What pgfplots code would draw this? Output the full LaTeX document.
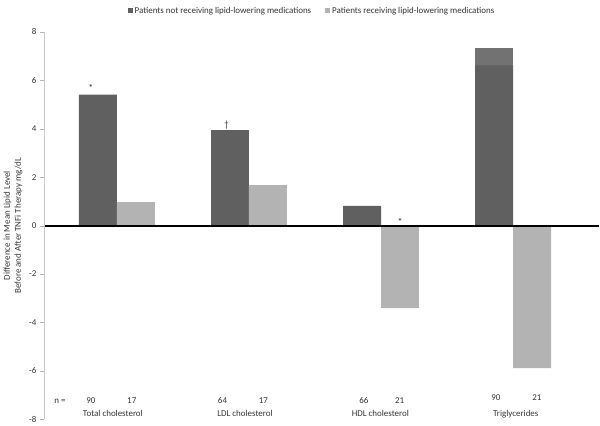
\documentclass[border=0pt]{standalone}
\usepackage{fontspec}
\setmainfont{Carlito}
\usepackage{pgfplots}
\pgfplotsset{compat=1.18}
\definecolor{darkbar}{HTML}{606060}
\definecolor{topbar}{HTML}{727272}
\definecolor{lightbar}{HTML}{B3B3B3}
\definecolor{txt}{HTML}{333333}

\begin{document}
\begin{tikzpicture}[font=\fontsize{9}{10.5}\selectfont, text=txt]
\begin{axis}[
  scale only axis, width=556bp, height=388bp,
  xmin=-0.552, xmax=3.65, ymin=-8, ymax=8,
  ytick={-8,-6,...,8}, xtick=\empty,
  axis x line=middle, axis y line=left,
  x axis line style={black, line width=2bp, -},
  y axis line style={black!22, -},
  hide obscured y ticks=false,
  tick align=outside, major tick length=4bp,
  ytick style={black!30},
  yticklabel style={font=\fontsize{9}{10}\selectfont, text=txt},
  /pgf/number format/assume math mode=true,
  axis on top, clip=false,
  legend columns=2,
  legend style={at={(0.483,1)}, anchor=south, yshift=15bp, draw=none,
    font=\fontsize{9}{10}\selectfont, text=txt, inner sep=0pt,
    /tikz/every even column/.append style={column sep=12bp}},
]
% upper segment of the triglyceride bar
\addplot[ybar, bar width=38bp, bar shift=-19bp, fill=topbar, draw=none, forget plot]
  coordinates {(3,7.32)};
\addplot[ybar, bar width=38bp, bar shift=-19bp, fill=darkbar, draw=none,
  legend image code/.code={\fill[darkbar] (0bp,-2.5bp) rectangle (5bp,2.5bp);}]
  coordinates {(0,5.41) (1,3.94) (2,0.82) (3,6.62)};
\addplot[ybar, bar width=38bp, bar shift=19bp, fill=lightbar, draw=none,
  legend image code/.code={\fill[lightbar] (0bp,-2.5bp) rectangle (5bp,2.5bp);}]
  coordinates {(0,0.97) (1,1.67) (2,-3.41) (3,-5.89)};
\legend{Patients not receiving lipid-lowering medications,
        Patients receiving lipid-lowering medications}

% significance marks
\node[anchor=base, font=\fontsize{10}{11}\selectfont] at (axis cs:-0.197,5.52) {*};
\node[anchor=base, font=\fontsize{9.5}{10}\selectfont] at (axis cs:0.83,4.04) {†};
\node[anchor=base, font=\fontsize{10}{11}\selectfont] at (axis cs:2.144,0.02) {*};

% sample sizes and group names
\node at (axis cs:-0.431,-7.24) {n =};
\node at (axis cs:-0.197,-7.24) {90};
\node at (axis cs:0.113,-7.24) {17};
\node at (axis cs:0.80,-7.24) {64};
\node at (axis cs:1.11,-7.24) {17};
\node at (axis cs:1.87,-7.24) {66};
\node at (axis cs:2.14,-7.24) {21};
\node at (axis cs:2.87,-7.10) {90};
\node at (axis cs:3.18,-7.10) {21};
\node at (axis cs:-0.03,-7.77) {Total cholesterol};
\node at (axis cs:0.97,-7.77) {LDL cholesterol};
\node at (axis cs:1.995,-7.77) {HDL cholesterol};
\node at (axis cs:3.02,-7.77) {Triglycerides};
\end{axis}
\node[rotate=90, align=center, font=\fontsize{9}{11}\selectfont] at (-31bp,194bp)
  {Difference in Mean Lipid Level\\Before and After TNFi Therapy mg/dL};
\useasboundingbox (-44bp,-6bp) rectangle (556bp,420bp);
\end{tikzpicture}
\end{document}
